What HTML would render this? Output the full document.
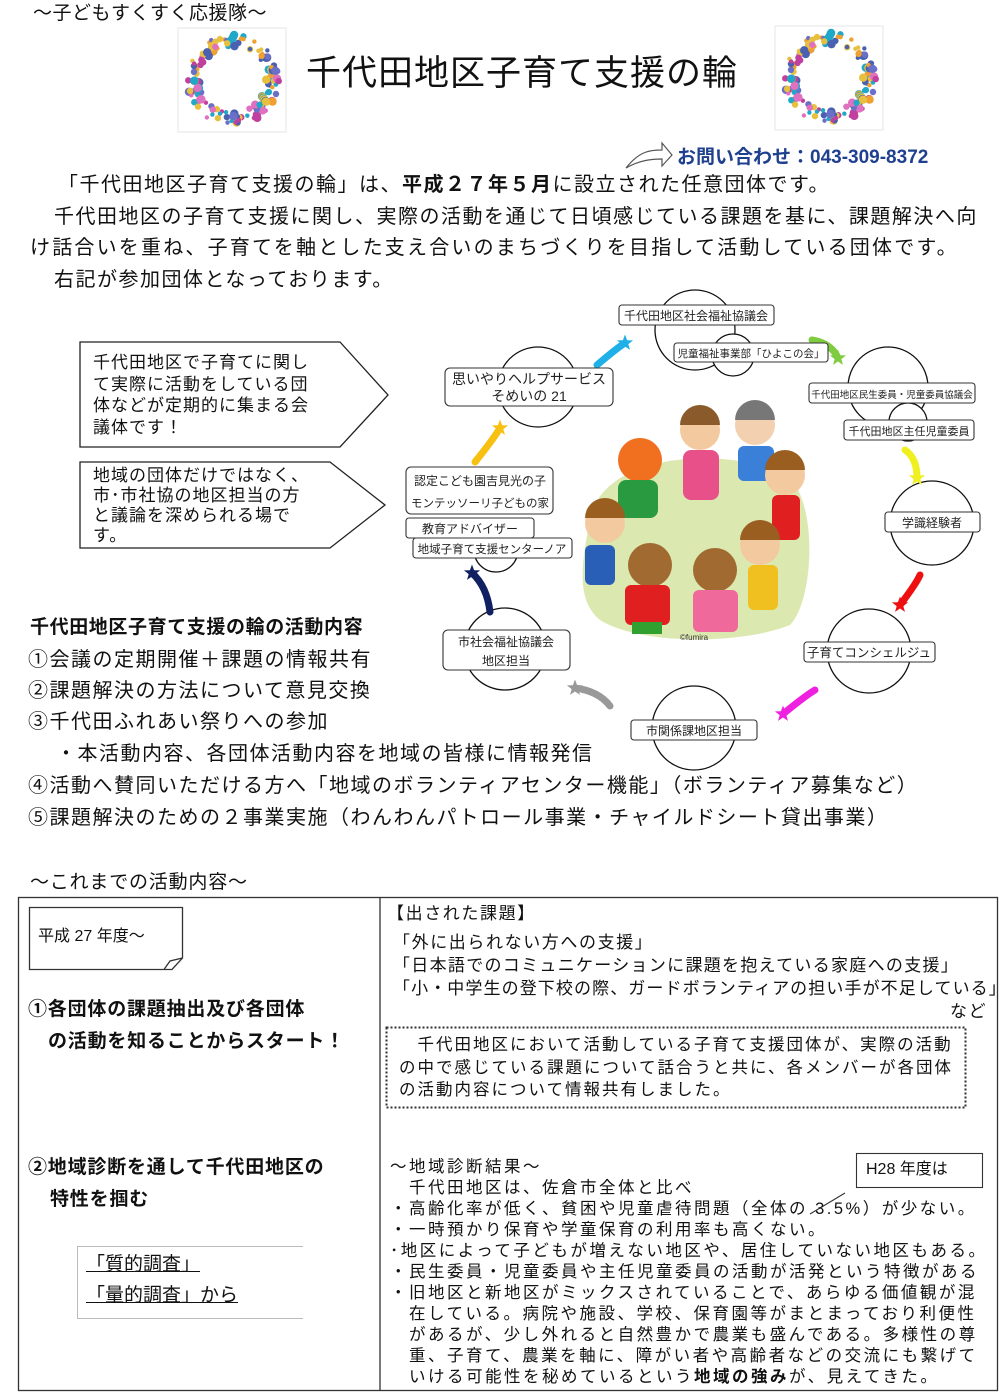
<!DOCTYPE html>
<html><head><meta charset="utf-8">
<style>
html,body{margin:0;padding:0;background:#fff;}
#p{position:relative;width:1000px;height:1393px;overflow:hidden;font-family:"Liberation Sans","Noto Sans CJK JP",sans-serif;color:#111;}
.t{position:absolute;white-space:nowrap;line-height:1;}
.m{font-size:20px;letter-spacing:1.5px;}
.r{font-size:17px;letter-spacing:1.6px;}
.b{font-weight:bold;}
svg{position:absolute;left:0;top:0;}
</style></head><body><div id="p">
<svg id="sv" width="1000" height="1393" viewBox="0 0 1000 1393" font-family="Liberation Sans, Noto Sans CJK JP, sans-serif">
<g id="wr"></g>
<path d="M626,168 C640,150 652,150 662,150 L662,143 L672,155 L662,166 L662,159 C652,159 640,160 626,168 Z" fill="#fff" stroke="#555" stroke-width="1.2"/>
<polygon points="80,342 340,342 388,395 340,447 80,447" fill="#fff" stroke="#222" stroke-width="1.3"/>
<polygon points="80,462 330,462 385,505 330,548 80,548" fill="#fff" stroke="#222" stroke-width="1.3"/>
<path d="M590,520 C600,460 700,445 780,470 C820,490 815,600 790,625 C740,645 640,645 600,620 C575,600 582,560 590,520 Z" fill="#dbe9b0"/>
<g>
<circle cx="640" cy="460" r="22" fill="#f07020"/><rect x="618" y="480" width="40" height="38" rx="8" fill="#2a9a40"/>
<circle cx="700" cy="430" r="20" fill="#f3c9a0"/><path d="M680,425 a20,20 0 0 1 40,0 z" fill="#8b5a2b"/><rect x="683" y="450" width="36" height="50" rx="8" fill="#e8508a"/>
<circle cx="755" cy="425" r="20" fill="#f3d0b0"/><path d="M735,420 a20,20 0 0 1 40,0 z" fill="#777"/><rect x="738" y="446" width="36" height="35" rx="6" fill="#3a7fd8"/>
<circle cx="785" cy="475" r="20" fill="#f3c9a0"/><path d="M765,470 a20,20 0 0 1 40,0 z" fill="#9a5e20"/><rect x="772" y="495" width="28" height="45" rx="6" fill="#e02020"/>
<circle cx="605" cy="523" r="20" fill="#f3c9a0"/><path d="M585,518 a20,20 0 0 1 40,0 z" fill="#9a5e20"/><rect x="585" y="545" width="30" height="40" rx="6" fill="#2a5fb8"/>
<circle cx="760" cy="545" r="20" fill="#f3c9a0"/><path d="M740,540 a20,20 0 0 1 40,0 z" fill="#9a5e20"/><rect x="748" y="565" width="30" height="45" rx="6" fill="#f0c020"/>
<circle cx="650" cy="565" r="22" fill="#a06a30"/><rect x="625" y="585" width="45" height="40" rx="6" fill="#e02020"/><rect x="632" y="622" width="30" height="12" fill="#30a030"/>
<circle cx="715" cy="570" r="22" fill="#a06a30"/><rect x="693" y="590" width="45" height="42" rx="6" fill="#ef6a9a"/>
</g>
<text x="680" y="640" font-size="8" fill="#333">©fumira</text>
<g fill="#fff" stroke="#111" stroke-width="1.3">
<circle cx="695" cy="330" r="40"/><circle cx="733" cy="355" r="21"/>
<circle cx="538" cy="387" r="40"/>
<circle cx="888" cy="387" r="40"/><circle cx="908" cy="422" r="19"/>
<circle cx="932" cy="523" r="42"/>
<circle cx="869" cy="651" r="42"/>
<circle cx="694" cy="728" r="42"/>
<circle cx="505" cy="649" r="41"/>
<circle cx="496" cy="550" r="22"/>
</g>
<g id="stars"></g>
<g fill="#fff" stroke="#333" stroke-width="1.1">
<rect x="619" y="305" width="155" height="20" rx="3"/>
<rect x="674" y="343" width="154" height="19" rx="3"/>
<rect x="445" y="368" width="168" height="38" rx="5"/>
<rect x="809" y="383" width="166" height="20" rx="3"/>
<rect x="844" y="420" width="130" height="20" rx="3"/>
<rect x="885" y="512" width="95" height="20" rx="3"/>
<rect x="406" y="467" width="147" height="47" rx="5"/>
<rect x="406" y="518" width="128" height="20" rx="3"/>
<rect x="413" y="538" width="159" height="20" rx="3"/>
<rect x="443" y="630" width="127" height="40" rx="5"/>
<rect x="804" y="642" width="131" height="20" rx="3"/>
<rect x="631" y="720" width="126" height="20" rx="3"/>
</g>
<g font-size="12" fill="#222" text-anchor="middle">
<text x="696" y="320">千代田地区社会福祉協議会</text>
<text x="751" y="357" font-size="10.5">児童福祉事業部「ひよこの会」</text>
<text x="529" y="384" font-size="14">思いやりヘルプサービス</text>
<text x="529" y="401" font-size="14">そめいの 21</text>
<text x="892" y="398" font-size="9.5">千代田地区民生委員・児童委員協議会</text>
<text x="909" y="435" font-size="11">千代田地区主任児童委員</text>
<text x="932" y="527">学識経験者</text>
<text x="480" y="485">認定こども園吉見光の子</text>
<text x="480" y="507" font-size="11.5">モンテッソーリ子どもの家</text>
<text x="470" y="533">教育アドバイザー</text>
<text x="492" y="553" font-size="11.5">地域子育て支援センターノア</text>
<text x="506" y="646">市社会福祉協議会</text>
<text x="506" y="665">地区担当</text>
<text x="869" y="657" font-size="12.5">子育てコンシェルジュ</text>
<text x="694" y="735">市関係課地区担当</text>
</g>
<g fill="none" stroke="#333" stroke-width="1.3">
<rect x="18.5" y="897.5" width="979" height="493"/>
<line x1="380" y1="898" x2="380" y2="1391"/>
<path d="M29.5,907.5 H182.5 V958 L172,969.5 H29.5 Z" fill="#fff"/>
<path d="M182.5,958 L170,961 L164,969.5" />
<rect x="386.5" y="1027.5" width="579" height="80" stroke-dasharray="2,2" stroke-width="2"/>
<rect x="856.5" y="1153.5" width="126" height="34" stroke-width="1.1"/>
<line x1="845" y1="1193" x2="810" y2="1214" stroke-width="1.1"/>
<path d="M303,1246.5 H77.5 V1318.5 H303" stroke="#bbb" stroke-width="1"/>
</g>
</svg>

<div class="t" style="left:33px;top:4px;font-size:19px;letter-spacing:0.5px;">～子どもすくすく応援隊～</div>
<div class="t" style="left:306px;top:56px;font-size:35px;letter-spacing:1px;">千代田地区子育て支援の輪</div>
<div class="t b" style="left:677px;top:148px;font-size:19px;color:#1f3f8f;">お問い合わせ：043-309-8372</div>

<div class="t m" style="left:58px;top:175px;">「千代田地区子育て支援の輪」は、<b>平成２７年５月</b>に設立された任意団体です。</div>
<div class="t m" style="left:54px;top:207px;">千代田地区の子育て支援に関し、実際の活動を通じて日頃感じている課題を基に、課題解決へ向</div>
<div class="t m" style="left:30px;top:238px;letter-spacing:2.2px;">け話合いを重ね、子育てを軸とした支え合いのまちづくりを目指して活動している団体です。</div>
<div class="t m" style="left:54px;top:270px;">右記が参加団体となっております。</div>

<div class="t" style="left:93px;top:352px;font-size:17px;line-height:21.5px;letter-spacing:1px;">千代田地区で子育てに関し<br>て実際に活動をしている団<br>体などが定期的に集まる会<br>議体です！</div>
<div class="t" style="left:93px;top:466px;font-size:17px;line-height:20px;letter-spacing:1px;">地域の団体だけではなく、<br>市･市社協の地区担当の方<br>と議論を深められる場で<br>す。</div>

<div class="t b" style="left:30px;top:618px;font-size:19px;letter-spacing:0.6px;">千代田地区子育て支援の輪の活動内容</div>
<div class="t m" style="left:28px;top:650px;">①会議の定期開催＋課題の情報共有</div>
<div class="t m" style="left:28px;top:681px;">②課題解決の方法について意見交換</div>
<div class="t m" style="left:28px;top:712px;">③千代田ふれあい祭りへの参加</div>
<div class="t m" style="left:56px;top:744px;">・本活動内容、各団体活動内容を地域の皆様に情報発信</div>
<div class="t m" style="left:28px;top:776px;">④活動へ賛同いただける方へ「地域のボランティアセンター機能」（ボランティア募集など）</div>
<div class="t m" style="left:28px;top:808px;">⑤課題解決のための２事業実施（わんわんパトロール事業・チャイルドシート貸出事業）</div>

<div class="t" style="left:30px;top:873px;font-size:19px;letter-spacing:0.8px;">～これまでの活動内容～</div>

<div class="t" style="left:38px;top:929px;font-size:16px;">平成 27 年度～</div>
<div class="t b" style="left:28px;top:1000px;font-size:19px;letter-spacing:0.8px;">①各団体の課題抽出及び各団体</div>
<div class="t b" style="left:48px;top:1032px;font-size:19px;letter-spacing:0.8px;">の活動を知ることからスタート！</div>
<div class="t b" style="left:28px;top:1158px;font-size:19px;letter-spacing:0.8px;">②地域診断を通して千代田地区の</div>
<div class="t b" style="left:50px;top:1190px;font-size:19px;letter-spacing:0.8px;">特性を掴む</div>
<div class="t" style="left:86px;top:1255px;font-size:19px;text-decoration:underline;">「質的調査」</div>
<div class="t" style="left:86px;top:1286px;font-size:19px;text-decoration:underline;">「量的調査」から</div>

<div class="t r" style="left:387px;top:905px;">【出された課題】</div>
<div class="t r" style="left:393px;top:934px;">「外に出られない方への支援」</div>
<div class="t r" style="left:393px;top:957px;letter-spacing:1.3px;">「日本語でのコミュニケーションに課題を抱えている家庭への支援」</div>
<div class="t r" style="left:393px;top:980px;letter-spacing:1.1px;">「小・中学生の登下校の際、ガードボランティアの担い手が不足している」</div>
<div class="t r" style="left:950px;top:1003px;">など</div>
<div class="t" style="left:399px;top:1034px;font-size:16.5px;line-height:22.5px;letter-spacing:2px;">　千代田地区において活動している子育て支援団体が、実際の活動<br>の中で感じている課題について話合うと共に、各メンバーが各団体<br>の活動内容について情報共有しました。</div>

<div class="t" style="left:866px;top:1162px;font-size:16px;">H28 年度は</div>
<div class="t" style="left:390px;top:1157px;font-size:16.5px;line-height:21px;letter-spacing:2.5px;">～地域診断結果～<br>　千代田地区は、佐倉市全体と比べ<br>・高齢化率が低く、貧困や児童虐待問題（全体の 3.5%）が少ない。<br>・一時預かり保育や学童保育の利用率も高くない。<br>･地区によって子どもが増えない地区や、居住していない地区もある。<br>・民生委員・児童委員や主任児童委員の活動が活発という特徴がある<br>・旧地区と新地区がミックスされていることで、あらゆる価値観が混<br>　在している。病院や施設、学校、保育園等がまとまっており利便性<br>　があるが、少し外れると自然豊かで農業も盛んである。多様性の尊<br>　重、子育て、農業を軸に、障がい者や高齢者などの交流にも繋げて<br>　いける可能性を秘めているという<b>地域の強み</b>が、見えてきた。</div>
</div>
<script>
(function(){
var ns="http://www.w3.org/2000/svg",wr=document.getElementById("wr");
var cols=["#e8c040","#f0a030","#4a60b0","#20a8c8","#c040a0","#e070c0","#6a70c8"];
function wreath(cx,cy){
 var fr=document.createElementNS(ns,"rect");
 fr.setAttribute("x",cx-55);fr.setAttribute("y",cy-52);fr.setAttribute("width",108);fr.setAttribute("height",104);
 fr.setAttribute("fill","none");fr.setAttribute("stroke","#e4e4e4");wr.appendChild(fr);
 var s=7;
 for(var i=0;i<160;i++){
  s=(s*9301+49297)%233280;var a=s/233280*Math.PI*2;
  s=(s*9301+49297)%233280;var rr=33+s/233280*13;
  s=(s*9301+49297)%233280;var c=cols[Math.floor(s/233280*cols.length)];
  var d=document.createElementNS(ns,"circle");
  d.setAttribute("cx",cx+Math.cos(a)*rr);d.setAttribute("cy",cy+Math.sin(a)*rr);
  d.setAttribute("r",2.2+(i%3));d.setAttribute("fill",c);wr.appendChild(d);
 }
}
wreath(233,80);wreath(830,78);
var st=document.getElementById("stars");
function star(x,y,tx,ty,c){
 var p=document.createElementNS(ns,"path");
 p.setAttribute("d","M"+tx+","+ty+" Q"+((x+tx)/2+6)+","+((y+ty)/2-6)+" "+x+","+y);
 p.setAttribute("stroke",c);p.setAttribute("stroke-width",7);p.setAttribute("fill","none");p.setAttribute("stroke-linecap","round");
 st.appendChild(p);
 var pts=[];for(var k=0;k<10;k++){var r=k%2?3.5:8.5,a=-Math.PI/2+k*Math.PI/5;pts.push((x+r*Math.cos(a)).toFixed(1)+","+(y+r*Math.sin(a)).toFixed(1));}
 var g=document.createElementNS(ns,"polygon");g.setAttribute("points",pts.join(" "));g.setAttribute("fill",c);st.appendChild(g);
}
star(625,343,597,365,"#20b0e8");
star(838,358,812,340,"#80cc40");
star(917,478,905,450,"#f0f020");
star(900,605,920,575,"#ee1010");
star(783,714,815,690,"#f020e0");
star(575,688,610,706,"#999");
star(472,573,490,612,"#102060");
star(500,428,475,462,"#f8c010");
})();
</script>
</body></html>
